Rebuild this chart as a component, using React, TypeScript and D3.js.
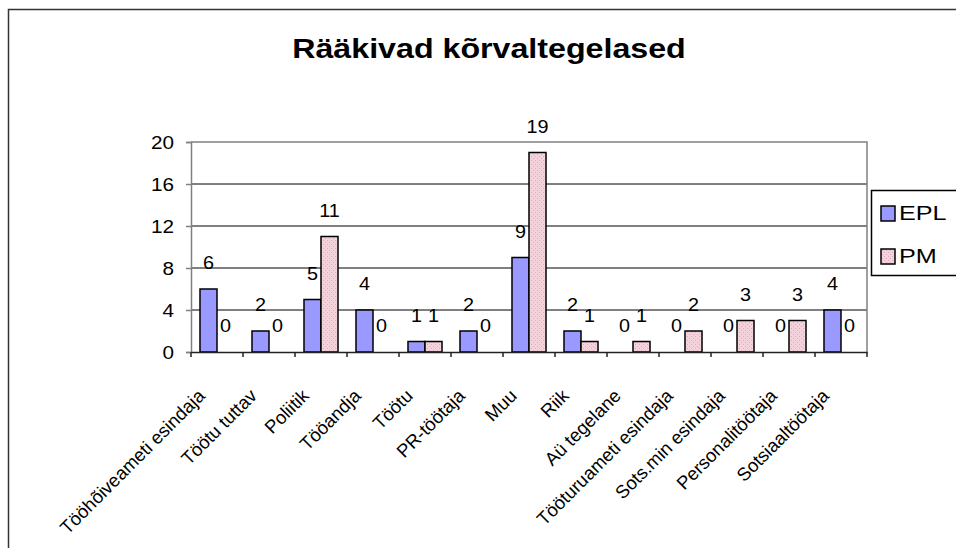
import React, { useEffect, useRef } from 'react';
import * as d3 from 'd3';

const categories = [
  'Tööhõiveameti esindaja',
  'Töötu tuttav',
  'Poliitik',
  'Tööandja',
  'Töötu',
  'PR-töötaja',
  'Muu',
  'Riik',
  'Aü tegelane',
  'Tööturuameti esindaja',
  'Sots.min esindaja',
  'Personalitöötaja',
  'Sotsiaaltöötaja',
];
const seriesNames = ['EPL', 'PM'];
const eplValues = [6, 2, 5, 4, 1, 2, 9, 2, 0, 0, 0, 0, 4];
const pmValues = [0, 0, 11, 0, 1, 0, 19, 1, 1, 2, 3, 3, 0];
const yTicks = [0, 4, 8, 12, 16, 20];
const title = 'Rääkivad kõrvaltegelased';

const App = () => {
  const svgRef = useRef(null);

  useEffect(() => {
    const W = 956;
    const H = 548;
    const plot = { left: 191, right: 867, top: 142, bottom: 352 };
    const font = 'Arial, "Liberation Sans", sans-serif';

    const svg = d3.select(svgRef.current);
    svg.selectAll('*').remove();
    svg.attr('width', W).attr('height', H);

    // pattern for PM bars
    const defs = svg.append('defs');
    const pat = defs
      .append('pattern')
      .attr('id', 'pmPat')
      .attr('width', 4)
      .attr('height', 4)
      .attr('patternUnits', 'userSpaceOnUse');
    pat.append('rect').attr('width', 4).attr('height', 4).attr('fill', '#f4d2dc');
    pat.append('rect').attr('x', 0).attr('y', 0).attr('width', 1).attr('height', 1).attr('fill', '#dcb0c0');
    pat.append('rect').attr('x', 2).attr('y', 2).attr('width', 1).attr('height', 1).attr('fill', '#dcb0c0');

    // chart border
    svg
      .append('rect')
      .attr('x', 8.5)
      .attr('y', 9.5)
      .attr('width', 1000)
      .attr('height', 600)
      .attr('fill', 'white')
      .attr('stroke', '#333')
      .attr('stroke-width', 1.5);

    // title (source font renders wider, so stretch horizontally)
    svg
      .append('text')
      .attr('transform', 'translate(489,58) scale(1.15,1)')
      .attr('text-anchor', 'middle')
      .attr('font-family', font)
      .attr('font-weight', 'bold')
      .attr('font-size', 28)
      .text(title);

    const x0 = d3.scaleBand().domain(categories).range([plot.left, plot.right]);
    const x1 = d3
      .scaleBand()
      .domain(seriesNames)
      .range([x0.bandwidth() * 0.173, x0.bandwidth() * 0.827]);
    const y = d3.scaleLinear().domain([0, 20]).range([plot.bottom, plot.top]);

    // gridlines
    svg
      .append('g')
      .selectAll('line')
      .data(yTicks.filter((t) => t > 0 && t < 20))
      .join('line')
      .attr('x1', plot.left)
      .attr('x2', plot.right)
      .attr('y1', (d) => y(d))
      .attr('y2', (d) => y(d))
      .attr('stroke', '#000')
      .attr('stroke-width', 1);

    // plot frame top/right
    svg
      .append('path')
      .attr('d', `M${plot.left},${y(20)}H${plot.right}V${plot.bottom}`)
      .attr('fill', 'none')
      .attr('stroke', '#808080')
      .attr('stroke-width', 1.5);

    // bars
    const groups = svg
      .append('g')
      .selectAll('g')
      .data(categories.map((c, i) => ({ c, vals: [eplValues[i], pmValues[i]] })))
      .join('g')
      .attr('transform', (d) => `translate(${x0(d.c)},0)`);

    groups
      .selectAll('rect')
      .data((d) => d.vals.map((v, j) => ({ s: seriesNames[j], v })))
      .join('rect')
      .filter((d) => d.v > 0)
      .attr('x', (d) => x1(d.s))
      .attr('y', (d) => y(d.v))
      .attr('width', x1.bandwidth())
      .attr('height', (d) => y(0) - y(d.v))
      .attr('fill', (d) => (d.s === 'EPL' ? '#9999ff' : 'url(#pmPat)'))
      .attr('stroke', '#000')
      .attr('stroke-width', 1.5);

    // value labels
    groups
      .selectAll('text')
      .data((d) => d.vals.map((v, j) => ({ s: seriesNames[j], v })))
      .join('text')
      .attr(
        'transform',
        (d) => `translate(${x1(d.s) + x1.bandwidth() / 2},${y(d.v) - 20}) scale(1.1,1)`
      )
      .attr('text-anchor', 'middle')
      .attr('font-family', font)
      .attr('font-size', 18)
      .text((d) => d.v);

    // y axis
    const yAxis = svg
      .append('g')
      .attr('transform', `translate(${plot.left},0)`)
      .call(d3.axisLeft(y).tickValues(yTicks).tickSize(5).tickFormat(() => ''));
    yAxis.select('.domain').attr('stroke', '#808080').attr('stroke-width', 1.5);
    yAxis.selectAll('.tick line').attr('stroke', '#808080').attr('stroke-width', 1.5);

    svg
      .append('g')
      .selectAll('text')
      .data(yTicks)
      .join('text')
      .attr('transform', (d) => `translate(${plot.left - 17},${y(d) + 6.5}) scale(1.15,1)`)
      .attr('text-anchor', 'end')
      .attr('font-family', font)
      .attr('font-size', 18)
      .text((d) => d);

    // x axis
    const xAxis = svg
      .append('g')
      .attr('transform', `translate(0,${plot.bottom})`)
      .call(d3.axisBottom(x0).tickSize(0).tickFormat(() => ''));
    xAxis.select('.domain').attr('stroke', '#222').attr('stroke-width', 1.5);

    svg
      .append('g')
      .selectAll('line')
      .data(d3.range(categories.length + 1))
      .join('line')
      .attr('x1', (i) => plot.left + i * x0.step())
      .attr('x2', (i) => plot.left + i * x0.step())
      .attr('y1', plot.bottom)
      .attr('y2', plot.bottom + 5)
      .attr('stroke', '#222')
      .attr('stroke-width', 1.5);

    svg
      .append('g')
      .selectAll('text')
      .data(categories)
      .join('text')
      .attr('transform', (d) => `translate(${x0(d) + x0.bandwidth() / 2 - 11},397) rotate(-45)`)
      .attr('text-anchor', 'end')
      .attr('font-family', font)
      .attr('font-size', 18.5)
      .text((d) => d);

    // legend
    const lg = svg.append('g');
    lg.append('rect')
      .attr('x', 871.5)
      .attr('y', 190.5)
      .attr('width', 120)
      .attr('height', 85)
      .attr('fill', 'white')
      .attr('stroke', '#000')
      .attr('stroke-width', 1.5);
    seriesNames.forEach((s, i) => {
      const yy = 206 + i * 43;
      lg.append('rect')
        .attr('x', 881)
        .attr('y', yy)
        .attr('width', 14)
        .attr('height', 15)
        .attr('fill', s === 'EPL' ? '#9999ff' : 'url(#pmPat)')
        .attr('stroke', '#000')
        .attr('stroke-width', 1.5);
      lg.append('text')
        .attr('transform', `translate(899,${yy + 14}) scale(1.2,1)`)
        .attr('font-family', font)
        .attr('font-size', 21)
        .text(s);
    });
  }, []);

  return <svg ref={svgRef} style={{ position: 'absolute', left: 0, top: 0 }}></svg>;
};

export default App;
